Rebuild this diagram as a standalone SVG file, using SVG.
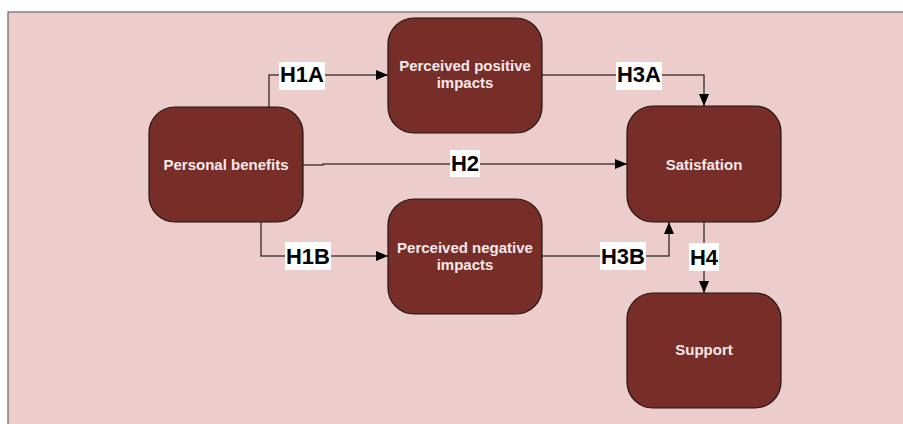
<svg xmlns="http://www.w3.org/2000/svg" width="903" height="424" viewBox="0 0 903 424">
<defs>
<style>
.node{fill:#782E28;stroke:#1E1414;stroke-width:1.2}
.nt{font-family:"Liberation Sans",Arial,sans-serif;font-weight:bold;font-size:15px;fill:#F6E8E8;text-anchor:middle}
.edge{fill:none;stroke:#4A4040;stroke-width:1.5}
.lb{fill:#FFFFFF}
.lt{font-family:"Liberation Sans",Arial,sans-serif;font-weight:bold;font-size:22px;fill:#000;text-anchor:middle}
</style>
<marker id="arr" viewBox="0 0 12 10" refX="12" refY="5" markerWidth="12" markerHeight="10" markerUnits="userSpaceOnUse" orient="auto">
<path d="M0,0 L12,5 L0,10 Z" fill="#000"/>
</marker>
</defs>
<rect x="0" y="0" width="903" height="424" fill="#FFFFFF"/>
<rect x="8" y="12" width="900" height="420" fill="#EDCDCC" stroke="#666" stroke-width="1.2"/>
<g id="connectors">
<path class="edge" d="M269,107 V75 H388" marker-end="url(#arr)"/>
<path class="edge" d="M303,165 H323 V164 H627" marker-end="url(#arr)"/>
<path class="edge" d="M261,222 V256 H388" marker-end="url(#arr)"/>
<path class="edge" d="M542,75 H704 V106" marker-end="url(#arr)"/>
<path class="edge" d="M542,256 H669 V222" marker-end="url(#arr)"/>
<path class="edge" d="M704,222 V293" marker-end="url(#arr)"/>
<g id="label-H1A"><rect class="lb" x="279" y="62" width="46" height="28"/><text class="lt" x="302" y="82">H1A</text></g>
<g id="label-H2"><rect class="lb" x="450" y="150" width="30" height="27"/><text class="lt" x="465" y="171">H2</text></g>
<g id="label-H1B"><rect class="lb" x="285" y="242" width="46" height="28"/><text class="lt" x="308" y="263.5">H1B</text></g>
<g id="label-H3A"><rect class="lb" x="616" y="62" width="46" height="28"/><text class="lt" x="639" y="82">H3A</text></g>
<g id="label-H3B"><rect class="lb" x="600" y="242" width="46" height="28"/><text class="lt" x="623" y="263.5">H3B</text></g>
<g id="label-H4"><rect class="lb" x="689" y="243" width="30" height="28"/><text class="lt" x="704" y="264.5">H4</text></g>
</g>
<g id="node-personal-benefits">
<rect class="node" x="149" y="107" width="154" height="115" rx="26"/>
<text class="nt" x="226" y="170">Personal benefits</text>
</g>
<g id="node-perceived-positive">
<rect class="node" x="388" y="18" width="154" height="115" rx="26"/>
<text class="nt" x="465" y="71">Perceived positive</text>
<text class="nt" x="465" y="88">impacts</text>
</g>
<g id="node-perceived-negative">
<rect class="node" x="388" y="199" width="154" height="115" rx="26"/>
<text class="nt" x="465" y="252.5">Perceived negative</text>
<text class="nt" x="465" y="269.5">impacts</text>
</g>
<g id="node-satisfation">
<rect class="node" x="627" y="106" width="154" height="116" rx="26"/>
<text class="nt" x="704" y="169.5">Satisfation</text>
</g>
<g id="node-support">
<rect class="node" x="627" y="293" width="154" height="115" rx="26"/>
<text class="nt" x="704" y="355">Support</text>
</g>
</svg>
